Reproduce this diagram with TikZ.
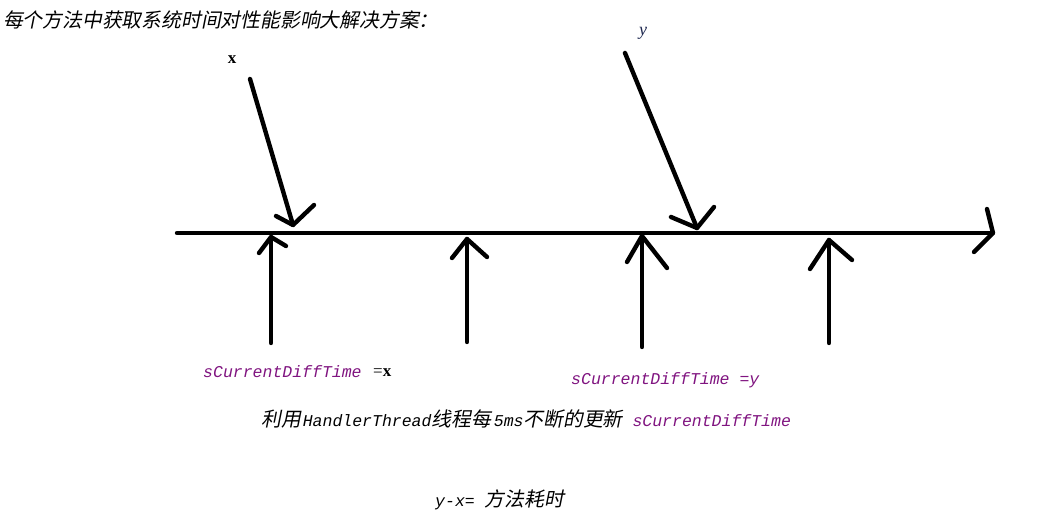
\documentclass[tikz,border=0pt]{standalone}
\usepackage{fontspec}
\setmainfont{Liberation Serif}
\newfontfamily\cjkfont[FakeSlant=0.2]{Noto Sans CJK SC}
\newfontfamily\codefont{Liberation Mono}
\usetikzlibrary{positioning}
\definecolor{varpurple}{RGB}{128,20,128}
\definecolor{inkblue}{RGB}{30,40,80}

\begin{document}
\begin{tikzpicture}[
    x=1pt, y=-1pt,
    inner sep=0pt, %text sits right on its anchor
    stroke/.style={line width=4.4pt,black,line cap=round,
        line join=round},
    cjk/.style={anchor=west,
        font=\cjkfont\fontsize{19.8}{22}\selectfont},
    var/.style={anchor=west,text=varpurple,
        font=\codefont\itshape\fontsize{16.5}{20}\selectfont},
    ]
    \useasboundingbox (0,0) rectangle (1047,519);
    \node[cjk] (head) at (3,20) {每个方法中获取系统时间对性能影响大解决方案：};
    % time axis
    \coordinate (t0) at (177,233);
    \coordinate (t1) at (993,233);
    \draw[stroke] (t0) -- (t1);
    \draw[stroke] (987,209) -- (t1) -- (974,252);
    % method start x
    \node (lx) at (232,60) {\fontsize{17}{20}\selectfont\bfseries x};
    \coordinate (xs) at (250,79);
    \coordinate (xt) at (293,225);
    \draw[stroke] (xs) -- (xt);
    \draw[stroke] (276,216) -- (xt) -- (314,205);
    % method end y
    \node[text=inkblue] (ly) at (643,33) {\fontsize{18}{20}\selectfont\itshape y};
    \coordinate (ys) at (625,53);
    \coordinate (yt) at (697,228);
    \draw[stroke] (ys) -- (yt);
    \draw[stroke] (671,217) -- (yt) -- (714,207);
    % HandlerThread ticks
    \coordinate (a0) at (271,343);
    \coordinate (a1) at (271,237);
    \draw[stroke] (a0) -- (a1);
    \draw[stroke] (259,253) -- (a1) -- (286,246);
    \coordinate (b0) at (467,342);
    \coordinate (b1) at (467,239);
    \draw[stroke] (b0) -- (b1);
    \draw[stroke] (452,258) -- (b1) -- (487,257);
    \coordinate (c0) at (642,347);
    \coordinate (c1) at (642,236);
    \draw[stroke] (c0) -- (c1);
    \draw[stroke] (627,262) -- (c1) -- (667,268);
    \coordinate (d0) at (829,343);
    \coordinate (d1) at (829,240);
    \draw[stroke] (d0) -- (d1);
    \draw[stroke] (810,269) -- (d1) -- (852,260);
    % labels under the axis
    \node[var] (vx) at (203,372) {sCurrentDiffTime};
    \node[anchor=west] (eqx) at (373,373)
        {\fontsize{17}{20}\selectfont =\textbf{x}};
    \node[var] (vy) at (571,380) {sCurrentDiffTime =y};
    \node[anchor=west] (upd) at (261,419)
        {{\cjkfont\fontsize{19.8}{22}\selectfont 利用}\kern2pt%
        {\codefont\itshape\fontsize{16.5}{20}\selectfont HandlerThread}%
        {\cjkfont\fontsize{19.8}{22}\selectfont 线程每}\kern3pt%
        {\codefont\itshape\fontsize{16.5}{20}\selectfont 5ms}%
        {\cjkfont\fontsize{19.8}{22}\selectfont 不断的更新}%
        {\codefont\itshape\fontsize{16.5}{20}\selectfont\color{varpurple} \ sCurrentDiffTime}};
    \node[anchor=west] (cost) at (435,500)
        {{\codefont\itshape\fontsize{16.5}{20}\selectfont y-x=\ }%
        {\cjkfont\fontsize{19.8}{22}\selectfont 方法耗时}};
\end{tikzpicture}
\end{document}
